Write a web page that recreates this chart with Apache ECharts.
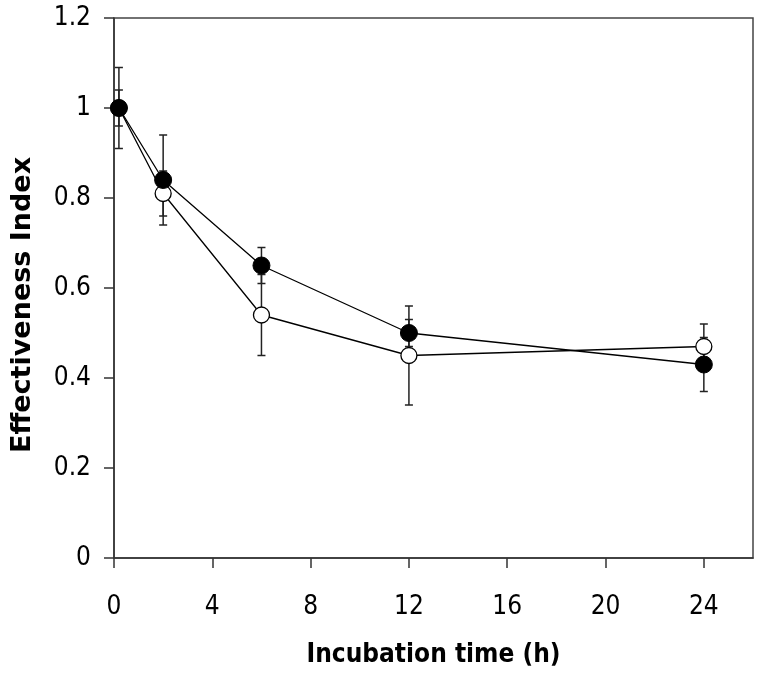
<!DOCTYPE html>
<html>
<head>
<meta charset="utf-8">
<script src="https://cdn.jsdelivr.net/npm/echarts@6/dist/echarts.min.js"></script>
<style>
html,body{margin:0;padding:0;background:#fff;}
#chart{width:765px;height:675px;}
</style>
</head>
<body>
<div id="chart"></div>
<script>
// ---- data ----
const timeH = [0.2, 2, 6, 12, 24];
const filledMean = [1.00, 0.84, 0.65, 0.50, 0.43];
const filledErr  = [0.09, 0.10, 0.04, 0.03, 0.06];
const openMean   = [1.00, 0.81, 0.54, 0.45, 0.47];
const openErr    = [0.04, 0.05, 0.09, 0.11, 0.05];
const xTickValues = [0, 4, 8, 12, 16, 20, 24];
const yTickValues = [0, 0.2, 0.4, 0.6, 0.8, 1, 1.2];
const xTitle = 'Incubation time (h)';
const yTitle = 'Effectiveness Index';

const condFont = "'DejaVu Sans Condensed', 'DejaVu Sans', Verdana, sans-serif";
const normFont = "'DejaVu Sans', Verdana, sans-serif";

function pairs(xs, ys) { return xs.map((x, i) => [x, ys[i]]); }
function errData(xs, m, e) { return xs.map((x, i) => [x, m[i] - e[i], m[i] + e[i]]); }

function errRender(params, api) {
  const x = api.value(0);
  const lo = api.coord([x, api.value(1)]);
  const hi = api.coord([x, api.value(2)]);
  const hw = 4;
  const st = { stroke: '#222', lineWidth: 1.5 };
  return {
    type: 'group',
    children: [
      { type: 'line', shape: { x1: lo[0], y1: lo[1], x2: hi[0], y2: hi[1] }, style: st },
      { type: 'line', shape: { x1: lo[0] - hw, y1: lo[1], x2: lo[0] + hw, y2: lo[1] }, style: st },
      { type: 'line', shape: { x1: hi[0] - hw, y1: hi[1], x2: hi[0] + hw, y2: hi[1] }, style: st }
    ]
  };
}

const chart = echarts.init(document.getElementById('chart'), null, { renderer: 'canvas' });
chart.setOption({
  animation: false,
  backgroundColor: '#ffffff',
  grid: {
    left: 114, right: 12, top: 18, bottom: 117,
    show: true, borderColor: '#444', borderWidth: 1.5, backgroundColor: 'transparent'
  },
  xAxis: {
    type: 'value', min: 0, max: 26, interval: 4,
    splitLine: { show: false },
    axisLine: { show: true, lineStyle: { color: '#333', width: 1.5 } },
    axisTick: { show: true, inside: false, length: 10, customValues: xTickValues, lineStyle: { color: '#333', width: 1.5 } },
    axisLabel: { customValues: xTickValues, margin: 36, fontSize: 26, color: '#000', fontFamily: condFont },
    name: xTitle, nameLocation: 'middle', nameGap: 84,
    nameTextStyle: { fontSize: 26, fontWeight: 'bold', color: '#000', fontFamily: condFont }
  },
  yAxis: {
    type: 'value', min: 0, max: 1.2, interval: 0.2,
    splitLine: { show: false },
    axisLine: { show: true, lineStyle: { color: '#333', width: 1.5 } },
    axisTick: { show: true, inside: false, length: 10, customValues: yTickValues, lineStyle: { color: '#333', width: 1.5 } },
    axisLabel: { customValues: yTickValues, margin: 23, fontSize: 26, color: '#000', fontFamily: condFont },
    name: yTitle, nameLocation: 'middle', nameGap: 78, nameRotate: 90,
    nameTextStyle: { fontSize: 27, fontWeight: 'bold', color: '#000', fontFamily: normFont, padding: [0, 34, 0, 0] }
  },
  series: [
    { type: 'custom', name: 'openErr', renderItem: errRender, data: errData(timeH, openMean, openErr), z: 1, encode: { x: 0, y: [1, 2] } },
    { type: 'custom', name: 'filledErr', renderItem: errRender, data: errData(timeH, filledMean, filledErr), z: 1, encode: { x: 0, y: [1, 2] } },
    {
      type: 'line', name: 'open', data: pairs(timeH, openMean), z: 3,
      symbol: 'circle', symbolSize: 16, showAllSymbol: true,
      lineStyle: { color: '#000', width: 1.3 },
      itemStyle: { color: '#fff', borderColor: '#000', borderWidth: 1.3 }
    },
    {
      type: 'line', name: 'filled', data: pairs(timeH, filledMean), z: 4,
      symbol: 'circle', symbolSize: 17, showAllSymbol: true,
      lineStyle: { color: '#000', width: 1.3 },
      itemStyle: { color: '#000', borderColor: '#000', borderWidth: 1 }
    }
  ]
});
</script>
</body>
</html>
